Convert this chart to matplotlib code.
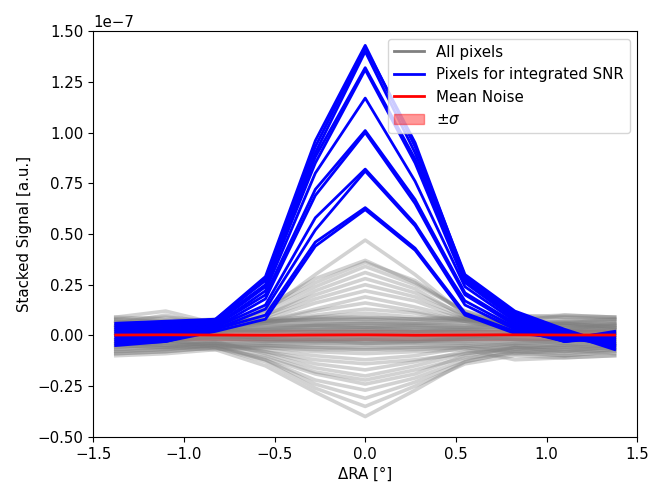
import numpy as np
import matplotlib
matplotlib.use("Agg")
import matplotlib.pyplot as plt
from matplotlib.patches import Patch
from matplotlib.lines import Line2D

plt.rcParams['font.size'] = 10.8

# Offsets in RA (deg)
ra_offsets = [-1.375, -1.1, -0.825, -0.55, -0.275, 0.0, 0.275, 0.55, 0.825, 1.1, 1.375]

# Stacked profiles of all pixels (units of 1e-7)
all_pixels = [
    # pixels with some source signal
    [0.02, 0.04, 0.03, 0.12, 0.30, 0.47, 0.30, 0.10, 0.03, 0.02, 0.03],
    [0.03, 0.02, 0.04, 0.14, 0.28, 0.37, 0.26, 0.12, 0.04, 0.03, 0.05],
    [0.05, 0.06, 0.03, 0.13, 0.26, 0.36, 0.27, 0.11, 0.05, 0.06, 0.04],
    [0.04, 0.03, 0.05, 0.12, 0.24, 0.34, 0.25, 0.12, 0.06, 0.05, 0.03],
    [0.05, 0.06, 0.03, 0.10, 0.22, 0.31, 0.23, 0.09, 0.05, 0.06, 0.04],
    [0.00, 0.03, 0.02, 0.10, 0.20, 0.28, 0.21, 0.10, 0.02, 0.01, 0.02],
    [0.03, 0.05, 0.04, 0.09, 0.18, 0.25, 0.19, 0.09, 0.04, 0.04, 0.05],
    [0.04, 0.07, 0.05, 0.08, 0.16, 0.22, 0.17, 0.08, 0.04, 0.05, 0.06],
    [0.02, 0.01, 0.03, 0.07, 0.13, 0.19, 0.14, 0.08, 0.03, 0.02, 0.01],
    [0.06, 0.10, 0.05, 0.07, 0.12, 0.16, 0.12, 0.07, 0.06, 0.07, 0.08],
    [-0.02, 0.01, 0.02, 0.06, 0.10, 0.13, 0.11, 0.07, 0.02, 0.00, -0.01],
    [0.09, 0.12, 0.06, 0.06, 0.09, 0.11, 0.09, 0.08, 0.07, 0.10, 0.09],
    # noise-dominated pixels
    [0.09, 0.08, 0.07, 0.08, 0.09, 0.09, 0.08, 0.09, 0.10, 0.09, 0.09],
    [0.08, 0.07, 0.08, 0.07, 0.08, 0.08, 0.08, 0.07, 0.08, 0.09, 0.08],
    [0.075, 0.07, 0.07, 0.075, 0.075, 0.08, 0.07, 0.075, 0.075, 0.08, 0.075],
    [0.07, 0.06, 0.06, 0.07, 0.07, 0.07, 0.06, 0.07, 0.07, 0.06, 0.07],
    [0.06, 0.07, 0.05, 0.06, 0.06, 0.06, 0.06, 0.06, 0.05, 0.07, 0.06],
    [0.055, 0.05, 0.055, 0.055, 0.055, 0.06, 0.055, 0.05, 0.06, 0.06, 0.055],
    [0.05, 0.04, 0.05, 0.05, 0.05, 0.06, 0.05, 0.05, 0.06, 0.05, 0.05],
    [0.04, 0.05, 0.04, 0.04, 0.05, 0.05, 0.04, 0.04, 0.04, 0.04, 0.03],
    [0.035, 0.04, 0.035, 0.035, 0.04, 0.04, 0.035, 0.035, 0.035, 0.03, 0.035],
    [0.03, 0.03, 0.04, 0.04, 0.04, 0.04, 0.04, 0.03, 0.03, 0.02, 0.04],
    [0.02, 0.02, 0.03, 0.03, 0.03, 0.03, 0.03, 0.03, 0.02, 0.03, 0.02],
    [0.015, 0.02, 0.02, 0.025, 0.025, 0.025, 0.02, 0.02, 0.015, 0.02, 0.015],
    [0.01, 0.02, 0.02, 0.02, 0.02, 0.02, 0.02, 0.02, 0.01, 0.01, 0.01],
    [0.00, 0.01, 0.01, 0.01, 0.01, 0.01, 0.01, 0.01, 0.00, 0.00, 0.00],
    [-0.01, 0.00, 0.00, 0.00, 0.00, 0.00, 0.00, 0.00, -0.01, -0.01, 0.00],
    [-0.02, -0.01, -0.01, -0.01, -0.01, -0.01, -0.01, -0.01, -0.02, -0.02, -0.01],
    [-0.025, -0.015, -0.015, -0.015, -0.015, -0.015, -0.015, -0.015, -0.025, -0.025, -0.015],
    [-0.03, -0.02, -0.02, -0.02, -0.02, -0.02, -0.02, -0.02, -0.03, -0.03, -0.02],
    [-0.04, -0.03, -0.03, -0.03, -0.03, -0.03, -0.03, -0.03, -0.04, -0.04, -0.03],
    [-0.045, -0.035, -0.035, -0.035, -0.035, -0.035, -0.035, -0.035, -0.045, -0.045, -0.035],
    [-0.05, -0.04, -0.04, -0.04, -0.04, -0.04, -0.04, -0.04, -0.05, -0.05, -0.04],
    [-0.06, -0.05, -0.04, -0.05, -0.05, -0.05, -0.05, -0.05, -0.06, -0.06, -0.05],
    [-0.07, -0.06, -0.05, -0.05, -0.06, -0.06, -0.06, -0.05, -0.07, -0.07, -0.06],
    [-0.08, -0.07, -0.05, -0.06, -0.07, -0.07, -0.07, -0.06, -0.08, -0.08, -0.07],
    [0.05, 0.02, 0.01, -0.02, -0.03, -0.02, -0.03, -0.01, 0.01, 0.03, 0.06],
    [-0.05, -0.03, -0.01, -0.01, 0.01, 0.02, 0.00, 0.00, -0.02, -0.04, -0.03],
    [0.07, 0.05, 0.03, 0.02, 0.03, 0.04, 0.02, 0.03, 0.05, 0.06, 0.08],
    [-0.09, -0.08, -0.06, -0.05, -0.06, -0.07, -0.06, -0.06, -0.09, -0.10, -0.08],
    [-0.10, -0.09, -0.07, -0.06, -0.08, -0.09, -0.08, -0.07, -0.12, -0.11, -0.10],
    [0.08, 0.09, 0.07, 0.07, 0.08, 0.09, 0.08, 0.08, 0.09, 0.10, 0.09],
    [0.01, -0.02, -0.01, -0.03, -0.02, -0.04, -0.03, -0.02, -0.01, -0.02, 0.00],
    [0.03, 0.04, 0.02, 0.03, 0.05, 0.04, 0.05, 0.04, 0.06, 0.05, 0.04],
    # pixels with negative bowl
    [-0.02, -0.03, -0.04, -0.07, -0.10, -0.12, -0.10, -0.06, -0.04, -0.03, -0.02],
    [-0.06, -0.04, -0.05, -0.08, -0.12, -0.14, -0.12, -0.09, -0.07, -0.05, -0.07],
    [-0.03, -0.05, -0.04, -0.08, -0.14, -0.17, -0.13, -0.08, -0.05, -0.06, -0.04],
    [-0.05, -0.06, -0.03, -0.09, -0.16, -0.20, -0.15, -0.09, -0.06, -0.06, -0.05],
    [-0.08, -0.07, -0.05, -0.10, -0.18, -0.22, -0.17, -0.11, -0.09, -0.07, -0.09],
    [-0.04, -0.05, -0.06, -0.11, -0.19, -0.24, -0.19, -0.10, -0.06, -0.08, -0.06],
    [-0.04, -0.02, -0.06, -0.12, -0.22, -0.27, -0.21, -0.12, -0.06, -0.08, -0.05],
    [-0.07, -0.06, -0.05, -0.12, -0.24, -0.31, -0.23, -0.13, -0.08, -0.09, -0.07],
    [-0.09, -0.08, -0.06, -0.13, -0.26, -0.35, -0.25, -0.14, -0.10, -0.11, -0.10],
    [-0.05, -0.06, -0.07, -0.15, -0.28, -0.40, -0.27, -0.13, -0.08, -0.10, -0.08],
]

# Pixels used for the integrated SNR (units of 1e-7)
snr_pixels = [
    [0.06, 0.07, 0.08, 0.29, 0.96, 1.43, 0.93, 0.30, 0.12, 0.03, -0.05],
    [0.05, 0.06, 0.07, 0.28, 0.93, 1.42, 0.95, 0.29, 0.11, 0.02, -0.06],
    [0.04, 0.05, 0.08, 0.27, 0.90, 1.40, 0.90, 0.28, 0.10, 0.01, -0.07],
    [0.03, 0.04, 0.07, 0.25, 0.88, 1.32, 0.87, 0.27, 0.09, 0.00, -0.04],
    [0.02, 0.03, 0.06, 0.24, 0.85, 1.31, 0.85, 0.26, 0.08, -0.01, -0.05],
    [0.01, 0.02, 0.05, 0.22, 0.80, 1.17, 0.76, 0.24, 0.07, -0.02, -0.03],
    [0.00, 0.01, 0.05, 0.20, 0.72, 1.01, 0.67, 0.21, 0.06, -0.02, -0.02],
    [-0.01, 0.00, 0.04, 0.18, 0.69, 1.00, 0.65, 0.20, 0.05, -0.03, -0.01],
    [-0.02, -0.01, 0.04, 0.15, 0.58, 0.82, 0.55, 0.17, 0.04, -0.03, 0.00],
    [-0.03, -0.02, 0.03, 0.13, 0.52, 0.81, 0.54, 0.15, 0.03, -0.03, 0.01],
    [-0.04, -0.03, 0.03, 0.10, 0.46, 0.63, 0.43, 0.11, 0.02, -0.02, 0.02],
    [-0.05, -0.03, 0.02, 0.08, 0.44, 0.62, 0.42, 0.10, 0.01, -0.01, 0.01],
]

# Mean noise and its spread (units of 1e-7)
mean_noise = [0.002, 0.003, 0.002, 0.001, 0.002, 0.003, 0.001, 0.002, 0.003, 0.002, 0.002]
noise_sigma = [0.025, 0.025, 0.024, 0.025, 0.026, 0.025, 0.025, 0.024, 0.025, 0.025, 0.025]

scale = 1e-7
x = np.array(ra_offsets)

fig = plt.figure(figsize=(6.51, 4.87), dpi=100)
ax = fig.add_axes([0.143, 0.103, 0.836, 0.833])

for prof in all_pixels:
    ax.plot(x, np.array(prof) * scale, color='gray', alpha=0.35, lw=2.6)

for prof in snr_pixels:
    ax.plot(x, np.array(prof) * scale, color='blue', lw=2)

m = np.array(mean_noise) * scale
s = np.array(noise_sigma) * scale
ax.fill_between(x, m - s, m + s, color='red', alpha=0.4)
ax.plot(x, m, color='red', lw=2)

ax.set_xlim(-1.5, 1.5)
ax.set_ylim(-0.5e-7, 1.5e-7)
ax.set_yticks(np.arange(-0.5, 1.51, 0.25) * scale)
ax.set_xlabel('ΔRA [°]')
ax.set_ylabel('Stacked Signal [a.u.]')

handles = [
    Line2D([], [], color='gray', lw=2),
    Line2D([], [], color='blue', lw=2),
    Line2D([], [], color='red', lw=2),
    Patch(facecolor='red', edgecolor='red', alpha=0.4),
]
labels = ['All pixels', 'Pixels for integrated SNR', 'Mean Noise', r'$\pm\sigma$']
ax.legend(handles, labels, loc='upper right')

fig.savefig('out.png', dpi=100)
